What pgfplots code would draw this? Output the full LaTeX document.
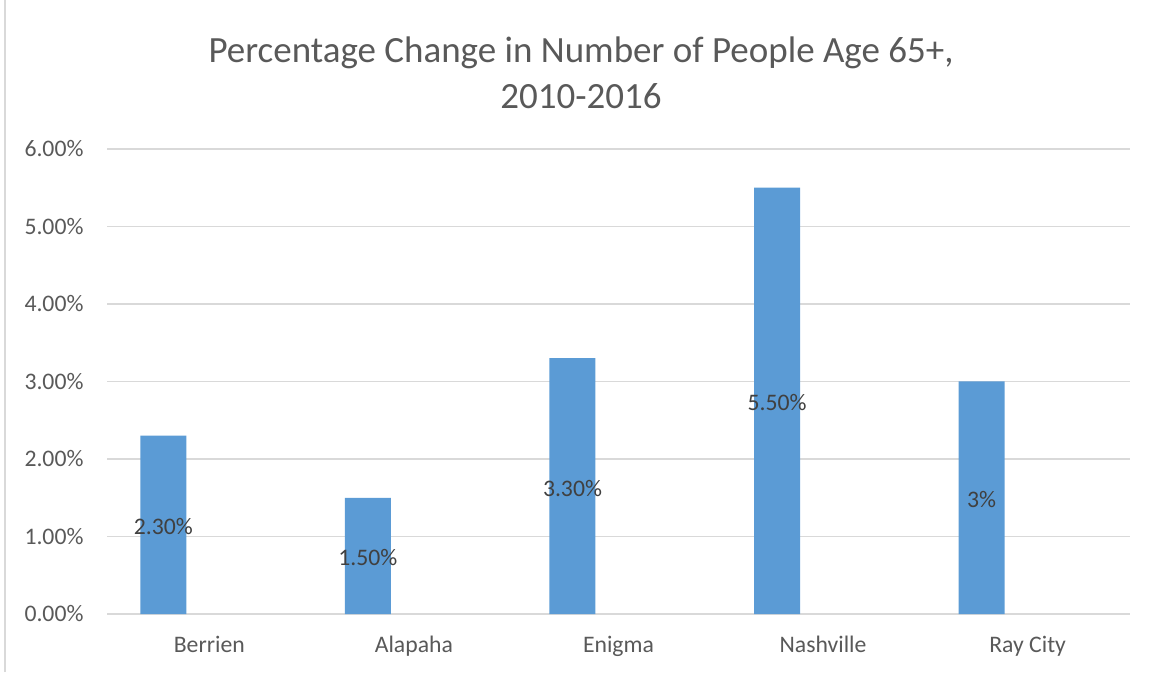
\documentclass[border=0pt]{standalone}
\usepackage{fontspec}
\setmainfont{Carlito}
\usepackage{pgfplots}
\pgfplotsset{compat=1.18}
\definecolor{barblue}{HTML}{5B9BD5}
\definecolor{gridgray}{HTML}{D9D9D9}
\definecolor{ticktext}{HTML}{595959}
\definecolor{labeltext}{HTML}{404040}
\begin{document}
\begin{tikzpicture}
\path[use as bounding box] (0pt,0pt) rectangle (1153pt,672pt);
% left edge of the chart frame
\draw[gridgray, line width=1.5pt] (5pt,0pt) -- (5pt,672pt);
\node[text=ticktext, font=\fontsize{37}{46}\selectfont, align=center] at (581pt,599pt)
  {Percentage Change in Number of People Age 65+,\\2010-2016};
\begin{axis}[
    at={(107pt,58pt)}, anchor=south west,
    scale only axis, width=1023pt, height=465pt,
    xmin=-0.5, xmax=4.5, ymin=0, ymax=6,
    clip=false,
    axis line style={draw=none},
    major tick length=0pt,
    ymajorgrids=true,
    grid style={gridgray, line width=1.2pt},
    ytick={0,1,2,3,4,5,6},
    yticklabels={0.00\%,1.00\%,2.00\%,3.00\%,4.00\%,5.00\%,6.00\%},
    xtick={0,1,2,3,4},
    xticklabels={Berrien,Alapaha,Enigma,Nashville,Ray City},
    tick label style={font=\fontsize{23.7}{28}\selectfont, text=ticktext},
    yticklabel style={xshift=-20pt},
    xticklabel style={yshift=-19pt},
    ybar, bar width=46pt, bar shift=-46pt,
]
\addplot[fill=barblue, draw=none,
    point meta=explicit symbolic,
    nodes near coords,
    visualization depends on={rawy \as \ry},
    every node near coord/.append style={anchor=center,
        yshift={-\ry*38.75pt-2pt},
        font=\fontsize{23.7}{28}\selectfont, text=labeltext}]
coordinates {
    (0,2.3) [2.30\%]
    (1,1.5) [1.50\%]
    (2,3.3) [3.30\%]
    (3,5.5) [5.50\%]
    (4,3.0) [3\%]
};
\end{axis}
\end{tikzpicture}
\end{document}
